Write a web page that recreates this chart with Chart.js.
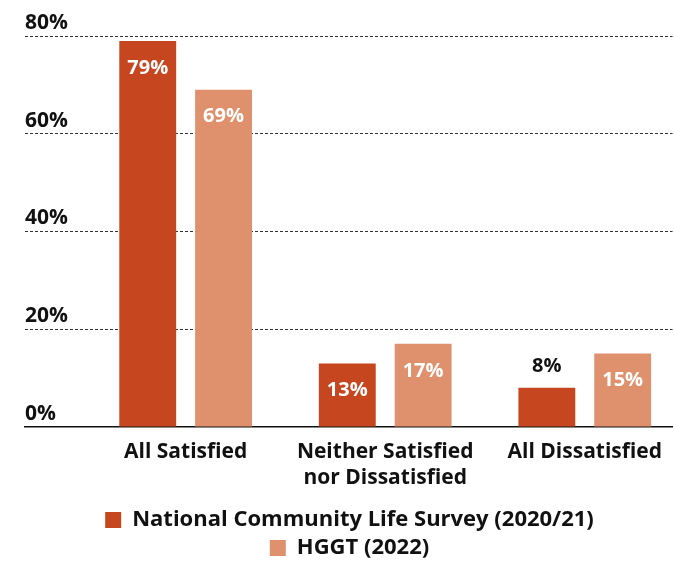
<!DOCTYPE html>
<html>
<head>
<meta charset="utf-8">
<script src="https://cdn.jsdelivr.net/npm/chart.js@4/dist/chart.umd.min.js"></script>
<style>
  html, body { margin: 0; padding: 0; background: #fff; }
  #wrap { width: 674px; height: 563px; }
</style>
</head>
<body>
<div id="wrap"><canvas id="c" width="674" height="563"></canvas></div>
<script>
const categories = [["All Satisfied"], ["Neither Satisfied", "nor Dissatisfied"], ["All Dissatisfied"]];
const seriesNames = ["National Community Life Survey (2020/21)", "HGGT (2022)"];
const nationalValues = [79, 13, 8];
const hggtValues = [69, 17, 15];
const yTicks = [0, 20, 40, 60, 80];

const FONT = "'Open Sans', 'Noto Sans', sans-serif";
const DARK = '#C5461F';
const LIGHT = '#DF916E';

const labelPlugin = {
  id: 'barLabels',
  afterDatasetsDraw(chart) {
    const ctx = chart.ctx;
    ctx.save();
    ctx.font = `bold 20px ${FONT}`;
    ctx.textAlign = 'center';
    ctx.textBaseline = 'middle';
    chart.data.datasets.forEach((ds, di) => {
      const meta = chart.getDatasetMeta(di);
      meta.data.forEach((bar, i) => {
        const v = ds.data[i].y;
        const txt = v + '%';
        if (v < 10) {
          ctx.fillStyle = '#111';
          ctx.fillText(txt, bar.x, bar.y - 22);
        } else {
          ctx.fillStyle = '#fff';
          ctx.fillText(txt, bar.x, bar.y + 27);
        }
      });
    });
    ctx.restore();
  }
};

new Chart(document.getElementById('c'), {
  type: 'bar',
  data: {
    datasets: [
      { label: seriesNames[0], data: nationalValues.map((v, i) => ({ x: i, y: v })), backgroundColor: DARK },
      { label: seriesNames[1], data: hggtValues.map((v, i) => ({ x: i, y: v })), backgroundColor: LIGHT }
    ]
  },
  options: {
    responsive: false,
    animation: false,
    devicePixelRatio: 1,
    layout: { padding: { left: 25, right: 0, top: 36, bottom: -6 } },
    datasets: { bar: { categoryPercentage: 0.76, barPercentage: 0.75 } },
    scales: {
      x: {
        type: 'linear',
        offset: false,
        min: -0.805,
        max: 2.44,
        afterBuildTicks(scale) { scale.ticks = categories.map((c, i) => ({ value: i })); },
        grid: { display: false, drawTicks: false, offset: false },
        border: { display: true, color: '#111', width: 1.5 },
        ticks: {
          autoSkip: false,
          maxRotation: 0,
          padding: 12,
          color: '#111',
          font: { family: FONT, weight: 'bold', size: 21, lineHeight: 1.24 },
          callback: (v) => categories[v]
        }
      },
      y: {
        min: 0,
        max: 80,
        afterBuildTicks(scale) { scale.ticks = yTicks.map(v => ({ value: v })); },
        grid: {
          drawTicks: false,
          color: (c) => c.tick && c.tick.value === 0 ? 'rgba(0,0,0,0)' : '#333',
          lineWidth: 1
        },
        border: { display: false, dash: [3, 2] },
        ticks: {
          mirror: true,
          padding: 0,
          labelOffset: -13,
          color: '#111',
          font: { family: FONT, weight: 'bold', size: 21 },
          callback: (v) => v + '%'
        }
      }
    },
    plugins: {
      legend: {
        position: 'bottom',
        labels: {
          boxWidth: 16,
          boxHeight: 16,
          padding: 6,
          color: '#111',
          font: { family: FONT, weight: 'bold', size: 22 }
        }
      },
      tooltip: { enabled: false }
    }
  },
  plugins: [labelPlugin]
});
</script>
</body>
</html>
